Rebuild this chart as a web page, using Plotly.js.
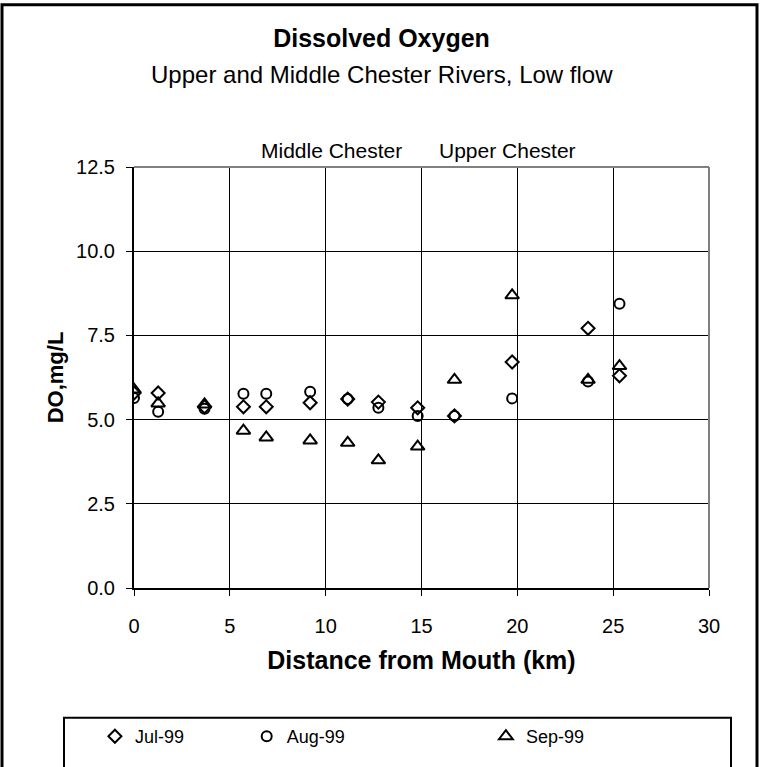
<!DOCTYPE html>
<html>
<head>
<meta charset="utf-8">
<script src="https://cdn.plot.ly/plotly-3.0.1.min.js"></script>
<style>html,body{margin:0;padding:0;background:#fff;}#chart{width:763px;height:767px;}</style>
</head>
<body>
<div id="chart"></div>
<script>
// Distance from mouth (km) for each station
const distanceKm = [0, 1.26, 3.68, 5.71, 6.9, 9.19, 11.15, 12.75, 14.8, 16.72, 19.73, 23.69, 25.33];
// Dissolved oxygen (mg/L)
const jul99 = [5.79, 5.79, 5.38, 5.38, 5.38, 5.50, 5.61, 5.52, 5.35, 5.11, 6.71, 7.71, 6.30];
const aug99 = [5.64, 5.23, 5.32, 5.77, 5.77, 5.83, 5.61, 5.35, 5.11, 5.11, 5.63, 6.13, 8.44];
const sep99 = [5.89, 5.48, 5.45, 4.67, 4.47, 4.38, 4.31, 3.79, 4.20, 6.18, 8.69, 6.18, 6.59];
const seriesNames = ["Jul-99", "Aug-99", "Sep-99"];
const xTickVals = [0, 5, 10, 15, 20, 25, 30];
const yTickVals = [0, 2.5, 5, 7.5, 10, 12.5];
const regionLabels = ["Middle Chester", "Upper Chester"];
const regionLabelX = [10.32, 19.5];

const FONT = "Liberation Sans, Arial, sans-serif";
const mk = (sym, size) => ({symbol: sym, size: size, color: "#000", line: {color: "#000", width: 2}});

const traces = [
  {x: distanceKm, y: jul99, name: seriesNames[0], type: "scatter", mode: "markers", marker: mk("diamond-open", 10), legend: "legend"},
  {x: distanceKm, y: aug99, name: seriesNames[1], type: "scatter", mode: "markers", marker: mk("circle-open", 10), legend: "legend2"},
  {x: distanceKm, y: sep99, name: seriesNames[2], type: "scatter", mode: "markers", marker: mk("triangle-up-open", 12), legend: "legend3"}
];

const PH = 428; // plot height px (for paper coordinates)
const PW = 575;
const legBase = {orientation: "h", yanchor: "middle", y: (595 - 746) / PH, xanchor: "left", bgcolor: "rgba(0,0,0,0)", borderwidth: 0, font: {family: FONT, size: 18, color: "#000"}, itemwidth: 30};

const layout = {
  width: 763, height: 767,
  margin: {l: 134, r: 54, t: 167, b: 172},
  paper_bgcolor: "#fff", plot_bgcolor: "#fff",
  font: {family: FONT, color: "#000"},
  title: {text: "<b>Dissolved Oxygen</b>", x: 0.5, xref: "container", xanchor: "center", y: 1 - 38/767, yref: "container", yanchor: "middle", font: {family: FONT, size: 25, color: "#000"}},
  xaxis: {
    range: [0, 30], tickvals: xTickVals, ticks: "outside", ticklen: 6, tickwidth: 1, tickcolor: "#000",
    ticklabelstandoff: 13,
    showgrid: true, gridcolor: "#000", gridwidth: 1, zeroline: false,
    showline: true, linecolor: "#000", linewidth: 2,
    tickfont: {family: FONT, size: 20, color: "#000"},
    title: {text: "<b>Distance from Mouth (km)</b>", font: {family: FONT, size: 25, color: "#000"}, standoff: 15}
  },
  yaxis: {
    range: [0, 12.5], tickvals: yTickVals, tickformat: ".1f", ticks: "outside", ticklen: 6, tickwidth: 1, tickcolor: "#000",
    ticklabelstandoff: 7,
    showgrid: true, gridcolor: "#000", gridwidth: 1, zeroline: false,
    showline: true, linecolor: "#000", linewidth: 2,
    tickfont: {family: FONT, size: 20, color: "#000"},
    title: {text: "<b>DO,mg/L</b>", font: {family: FONT, size: 22, color: "#000"}, standoff: 6}
  },
  showlegend: true,
  legend: Object.assign({}, legBase, {x: -0.068}),
  legend2: Object.assign({}, legBase, {x: 0.196}),
  legend3: Object.assign({}, legBase, {x: 0.612}),
  annotations: [
    {text: "Upper and Middle Chester Rivers, Low flow", xref: "paper", yref: "paper", x: (381.5 - 134) / PW, y: (595 - 73) / PH, xanchor: "center", yanchor: "middle", showarrow: false, font: {family: FONT, size: 24, color: "#000"}},
    {text: regionLabels[0], xref: "x", yref: "paper", x: regionLabelX[0], y: (595 - 150) / PH, xanchor: "center", yanchor: "middle", showarrow: false, font: {family: FONT, size: 21, color: "#000"}},
    {text: regionLabels[1], xref: "x", yref: "paper", x: regionLabelX[1], y: (595 - 150) / PH, xanchor: "center", yanchor: "middle", showarrow: false, font: {family: FONT, size: 21, color: "#000"}}
  ],
  shapes: [
    // plot-area border (gray top/right)
    {type: "line", xref: "paper", yref: "paper", x0: 0, x1: 1, y0: 1, y1: 1, line: {color: "#808080", width: 2}, layer: "above"},
    {type: "line", xref: "paper", yref: "paper", x0: 1, x1: 1, y0: 0, y1: 1, line: {color: "#808080", width: 2}, layer: "above"},
    // outer chart border
    {type: "rect", xref: "paper", yref: "paper", x0: (2 - 134) / PW, x1: (757 - 134) / PW, y0: -1, y1: (595 - 2) / PH, line: {color: "#000", width: 3}, fillcolor: "rgba(0,0,0,0)"},
    // legend box
    {type: "rect", xref: "paper", yref: "paper", x0: (64 - 134) / PW, x1: (731 - 134) / PW, y0: -1, y1: (595 - 727) / PH, line: {color: "#000", width: 2}, fillcolor: "rgba(0,0,0,0)"}
  ]
};

Plotly.newPlot("chart", traces, layout, {displayModeBar: false, staticPlot: true});
</script>
</body>
</html>
